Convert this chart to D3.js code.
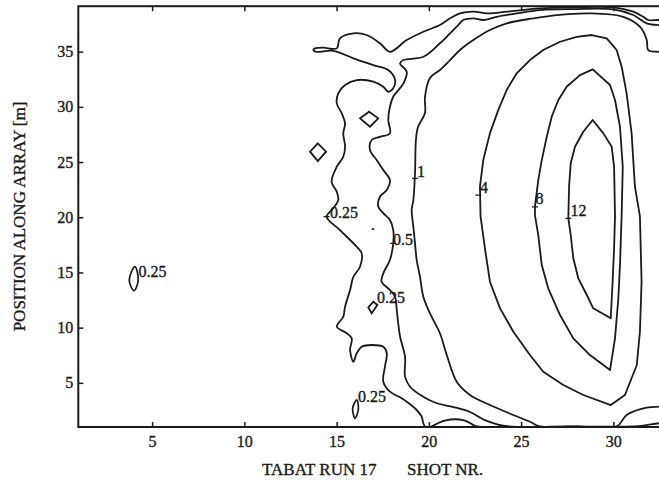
<!DOCTYPE html>
<html>
<head>
<meta charset="utf-8">
<script src="https://cdn.jsdelivr.net/npm/d3@7"></script>
<style>
  html, body { margin: 0; padding: 0; background: #ffffff; }
  svg { display: block; }
  text { font-family: "Liberation Serif", "Times New Roman", serif; fill: #1a1a1a; stroke: #1a1a1a; stroke-width: 0.35px; }
</style>
</head>
<body>
<svg id="chart" width="659" height="491"></svg>
<script>
// ---- data (shot number, position along array [m]) ----
const xTicks = [5, 10, 15, 20, 25, 30];
const yTicks = [5, 10, 15, 20, 25, 30, 35];

const contour12 = [[28.88,28.81],[28.37,27.75],[27.92,26.39],[27.69,24.89],[27.60,22.77],[27.56,19.90],[27.69,18.39],[27.83,16.28],[28.10,14.47],[28.56,12.96],[28.91,11.75],[29.86,10.85],[29.96,14.16],[30.04,17.19],[30.09,20.11],[30.04,24.58],[29.91,26.39],[29.46,27.60]];

const contour8 = [[28.88,33.40],[28.19,32.88],[27.47,31.82],[27.02,30.62],[26.66,29.11],[26.39,27.29],[26.12,25.18],[25.93,23.37],[25.75,20.95],[25.75,20.20],[25.93,18.39],[26.12,15.67],[26.47,13.56],[27.11,11.14],[27.83,9.03],[28.73,7.52],[29.82,6.16],[30.09,9.03],[30.27,12.66],[30.36,15.67],[30.45,20.20],[30.51,24.58],[30.36,28.20],[30.09,30.62],[29.82,31.98]];

const contour4 = [[28.83,36.51],[28.01,36.35],[27.11,35.90],[26.20,35.15],[25.48,34.24],[24.76,33.04],[24.22,31.53],[23.76,29.71],[23.31,27.60],[22.95,25.18],[22.77,22.77],[22.80,20.11],[23.04,17.19],[23.31,14.16],[23.86,11.75],[24.58,9.63],[25.48,7.52],[26.20,6.01],[27.29,4.80],[28.37,3.90],[29.86,2.99],[30.63,3.90],[31.27,6.62],[31.44,9.63],[31.53,14.16],[31.44,20.11],[31.17,22.77],[30.99,27.60],[30.72,31.23],[30.45,33.64],[30.18,35.15],[29.64,36.21]];

const contour1 = [[33.3,34.99],[32.47,34.99],[31.89,35.15],[31.81,36.05],[31.44,37.26],[30.54,38.16],[28.73,38.47],[26.93,38.32],[25.66,38.02],[24.22,37.57],[23.31,36.96],[22.41,36.05],[21.69,35.15],[21.15,34.24],[20.60,33.34],[20.06,32.61],[19.79,30.89],[19.79,29.44],[19.41,28.17],[19.30,27.00],[19.25,24.01],[19.16,21.56],[19.07,20.66],[19.16,19.14],[19.25,17.64],[19.34,16.13],[19.52,14.61],[19.70,12.80],[20.06,11.30],[20.60,9.49],[20.97,7.52],[21.51,5.10],[22.23,3.90],[23.31,2.99],[24.58,2.09],[25.48,1.48],[26.02,1.05],[28.0,1.05],[30.18,1.05],[30.72,2.09],[31.81,2.75],[32.47,2.84],[33.3,2.85]];

const contour05 = [[33.3,37.41],[32.47,37.41],[31.81,37.57],[31.08,38.32],[30.00,38.84],[27.83,38.86],[26.02,38.77],[24.76,38.47],[23.68,38.16],[22.95,37.87],[22.41,38.02],[21.87,37.87],[21.51,37.26],[20.97,36.35],[20.60,35.76],[19.70,34.54],[18.62,34.24],[18.44,33.94],[18.80,33.18],[18.62,32.13],[18.07,30.92],[17.89,30.01],[17.80,28.81],[17.89,27.60],[17.35,27.29],[16.90,27.00],[16.81,26.09],[17.17,25.18],[17.53,24.28],[17.89,23.37],[17.72,22.47],[17.35,21.86],[17.26,20.95],[17.53,20.38],[17.89,19.75],[18.07,18.84],[18.07,17.64],[17.89,16.13],[17.53,14.92],[17.44,14.16],[17.89,13.41],[18.17,12.80],[18.26,11.60],[18.44,9.18],[18.71,7.37],[18.71,5.56],[18.98,4.65],[19.70,3.74],[20.43,3.15],[21.33,2.81],[22.23,2.36],[23.04,1.63],[24.13,1.09],[27.5,1.05],[31.12,1.05],[31.72,1.15],[32.47,1.34],[33.3,1.40]];

const contour025 = [[33.3,37.87],[32.47,37.87],[31.89,37.87],[31.62,38.16],[31.08,38.62],[30.00,39.02],[27.83,39.02],[26.02,38.93],[24.22,38.62],[23.31,38.47],[22.41,38.62],[21.69,38.47],[21.15,38.02],[20.60,37.41],[19.70,36.81],[18.80,36.05],[17.89,34.99],[17.35,35.76],[16.63,36.51],[15.91,36.66],[15.18,36.21],[15.01,35.30],[14.28,35.36],[13.83,35.30],[13.74,35.15],[13.92,34.99],[14.82,35.08],[15.91,34.40],[16.99,33.79],[17.80,33.34],[18.17,32.43],[18.07,31.68],[17.80,31.37],[17.53,31.82],[16.99,32.28],[16.09,32.43],[15.46,31.98],[15.09,31.23],[15.01,30.32],[15.28,29.41],[15.46,28.51],[15.36,27.60],[15.46,26.39],[15.36,25.48],[15.01,24.58],[14.73,23.22],[15.01,22.31],[15.09,21.56],[14.82,20.81],[14.46,20.05],[15.18,18.84],[16.09,17.33],[16.36,16.73],[16.27,15.52],[15.91,14.61],[15.73,13.41],[15.46,11.90],[15.36,10.99],[15.01,10.09],[15.55,9.49],[15.82,9.03],[15.73,7.97],[15.91,6.91],[16.09,7.68],[16.36,8.27],[16.90,8.43],[17.53,8.27],[17.72,7.68],[17.62,6.46],[17.53,5.10],[17.89,4.20],[18.53,3.60],[19.34,2.54],[19.61,1.93],[19.70,1.34],[19.79,1.02]];

const bottomBump = [[20.11,1.02],[20.91,1.61],[21.91,1.61],[22.50,1.11],[22.91,1.02]];

// small closed 0.25 contours
const diamondA = [[16.76,29.56],[17.26,28.96],[16.81,28.20],[16.27,28.96]];
const diamondB = [[13.98,26.70],[14.43,25.94],[13.98,25.09],[13.56,25.94]];
const diamondC = [[16.99,12.35],[17.21,12.05],[16.90,11.30],[16.72,11.84]];
const ovalD = [[16.09,3.45],[16.18,2.63],[16.00,1.79],[15.87,2.69]];
const ovalE = [[4.07,15.52],[4.25,14.32],[4.02,13.35],[3.76,14.32]];
const dotF = [[16.95,18.93],[17.00,18.93]];

// contour labels: [x, y(baseline), text]
const labelX = [19.36, 22.77, 25.78, 27.68, 18.06, 14.64, 17.19, 16.16, 4.26];
const labelY = [23.64, 22.20, 21.20, 20.07, 17.49, 19.93, 12.23, 3.31, 14.63];
const labelText = ["1", "4", "8", "12", "0.5", "0.25", "0.25", "0.25", "0.25"];
// label "+" markers on the contour lines
const markX = [19.25, 22.68, 25.75, 27.56, 18.07, 14.46];
const markY = [23.53, 22.01, 20.95, 19.90, 17.64, 20.05];

const xTitleParts = ["TABAT RUN 17", "SHOT NR."];
const yTitle = "POSITION ALONG ARRAY [m]";

// ---- drawing ----
const svg = d3.select("#chart");
const ink = "#1a1a1a";

const x = d3.scaleLinear().domain([1, 33]).range([78.3, 668.7]);
const y = d3.scaleLinear().domain([1, 39.12]).range([427, 6.2]);

svg.append("defs").append("clipPath").attr("id", "plotclip")
  .append("rect")
  .attr("x", x(1)).attr("y", y(39.12))
  .attr("width", x(33) - x(1)).attr("height", y(1) - y(39.12));

const g = svg.append("g").attr("clip-path", "url(#plotclip)");

const lineOpen = d3.line().x(d => x(d[0])).y(d => y(d[1])).curve(d3.curveCatmullRom.alpha(0.5));
const lineClosed = d3.line().x(d => x(d[0])).y(d => y(d[1])).curve(d3.curveCatmullRomClosed.alpha(0.5));
const lineDiamond = d3.line().x(d => x(d[0])).y(d => y(d[1])).curve(d3.curveLinearClosed);

const openSets = [contour1, contour05, contour025, bottomBump];
const closedSets = [contour12, contour8, contour4];
const diamondSets = [diamondA, diamondB, diamondC];
const ovalSets = [ovalD, ovalE];

g.selectAll("path.open").data(openSets).join("path")
  .attr("class", "open").attr("d", lineOpen)
  .attr("fill", "none").attr("stroke", ink).attr("stroke-width", 1.8)
  .attr("stroke-linejoin", "round");

g.selectAll("path.closed").data(closedSets).join("path")
  .attr("class", "closed").attr("d", d3.line().x(d => x(d[0])).y(d => y(d[1])).curve(d3.curveLinearClosed))
  .attr("fill", "none").attr("stroke", ink).attr("stroke-width", 1.8)
  .attr("stroke-linejoin", "round");

g.selectAll("path.diamond").data(diamondSets).join("path")
  .attr("class", "diamond").attr("d", lineDiamond)
  .attr("fill", "none").attr("stroke", ink).attr("stroke-width", 1.8);

g.selectAll("path.oval").data(ovalSets).join("path")
  .attr("class", "oval").attr("d", lineClosed)
  .attr("fill", "none").attr("stroke", ink).attr("stroke-width", 1.7);

g.append("path").attr("d", d3.line().x(d => x(d[0])).y(d => y(d[1]))(dotF))
  .attr("fill", "none").attr("stroke", ink).attr("stroke-width", 1.8).attr("stroke-linecap", "round");

// "+" markers
g.selectAll("line.mark").data(markX).join("line")
  .attr("class", "mark")
  .attr("x1", d => x(d) - 3).attr("x2", d => x(d) + 3)
  .attr("y1", (d, i) => y(markY[i])).attr("y2", (d, i) => y(markY[i]))
  .attr("stroke", ink).attr("stroke-width", 1.2);

// labels
g.selectAll("text.clabel").data(labelText).join("text")
  .attr("class", "clabel")
  .attr("x", (d, i) => x(labelX[i])).attr("y", (d, i) => y(labelY[i]))
  .attr("font-size", 16).text(d => d);

// frame
svg.append("rect")
  .attr("x", x(1)).attr("y", y(39.12))
  .attr("width", x(33) - x(1)).attr("height", y(1) - y(39.12))
  .attr("fill", "none").attr("stroke", ink).attr("stroke-width", 2);

// axes
const axL = svg.append("g").attr("transform", `translate(${x(1)},0)`)
  .call(d3.axisLeft(y).tickValues(yTicks).tickSize(-5).tickPadding(5));
const axB = svg.append("g").attr("transform", `translate(0,${y(1)})`)
  .call(d3.axisBottom(x).tickValues(xTicks).tickSize(-5).tickPadding(9));
const axT = svg.append("g").attr("transform", `translate(0,${y(39.12)})`)
  .call(d3.axisTop(x).tickValues(xTicks).tickSize(-5).tickFormat(""));
[axL, axB, axT].forEach(a => {
  a.select(".domain").remove();
  a.selectAll("line").attr("stroke", ink).attr("stroke-width", 1.5);
  a.selectAll("text").attr("font-size", 16)
    .attr("font-family", "'Liberation Serif', 'Times New Roman', serif").attr("fill", ink);
});

// axis titles
svg.append("text").attr("x", 262).attr("y", 475).attr("font-size", 17).text(xTitleParts[0]);
svg.append("text").attr("x", 407).attr("y", 475).attr("font-size", 17).text(xTitleParts[1]);
svg.append("text")
  .attr("transform", "translate(25,216.5) rotate(-90)")
  .attr("text-anchor", "middle").attr("font-size", 17).text(yTitle);
</script>
</body>
</html>
